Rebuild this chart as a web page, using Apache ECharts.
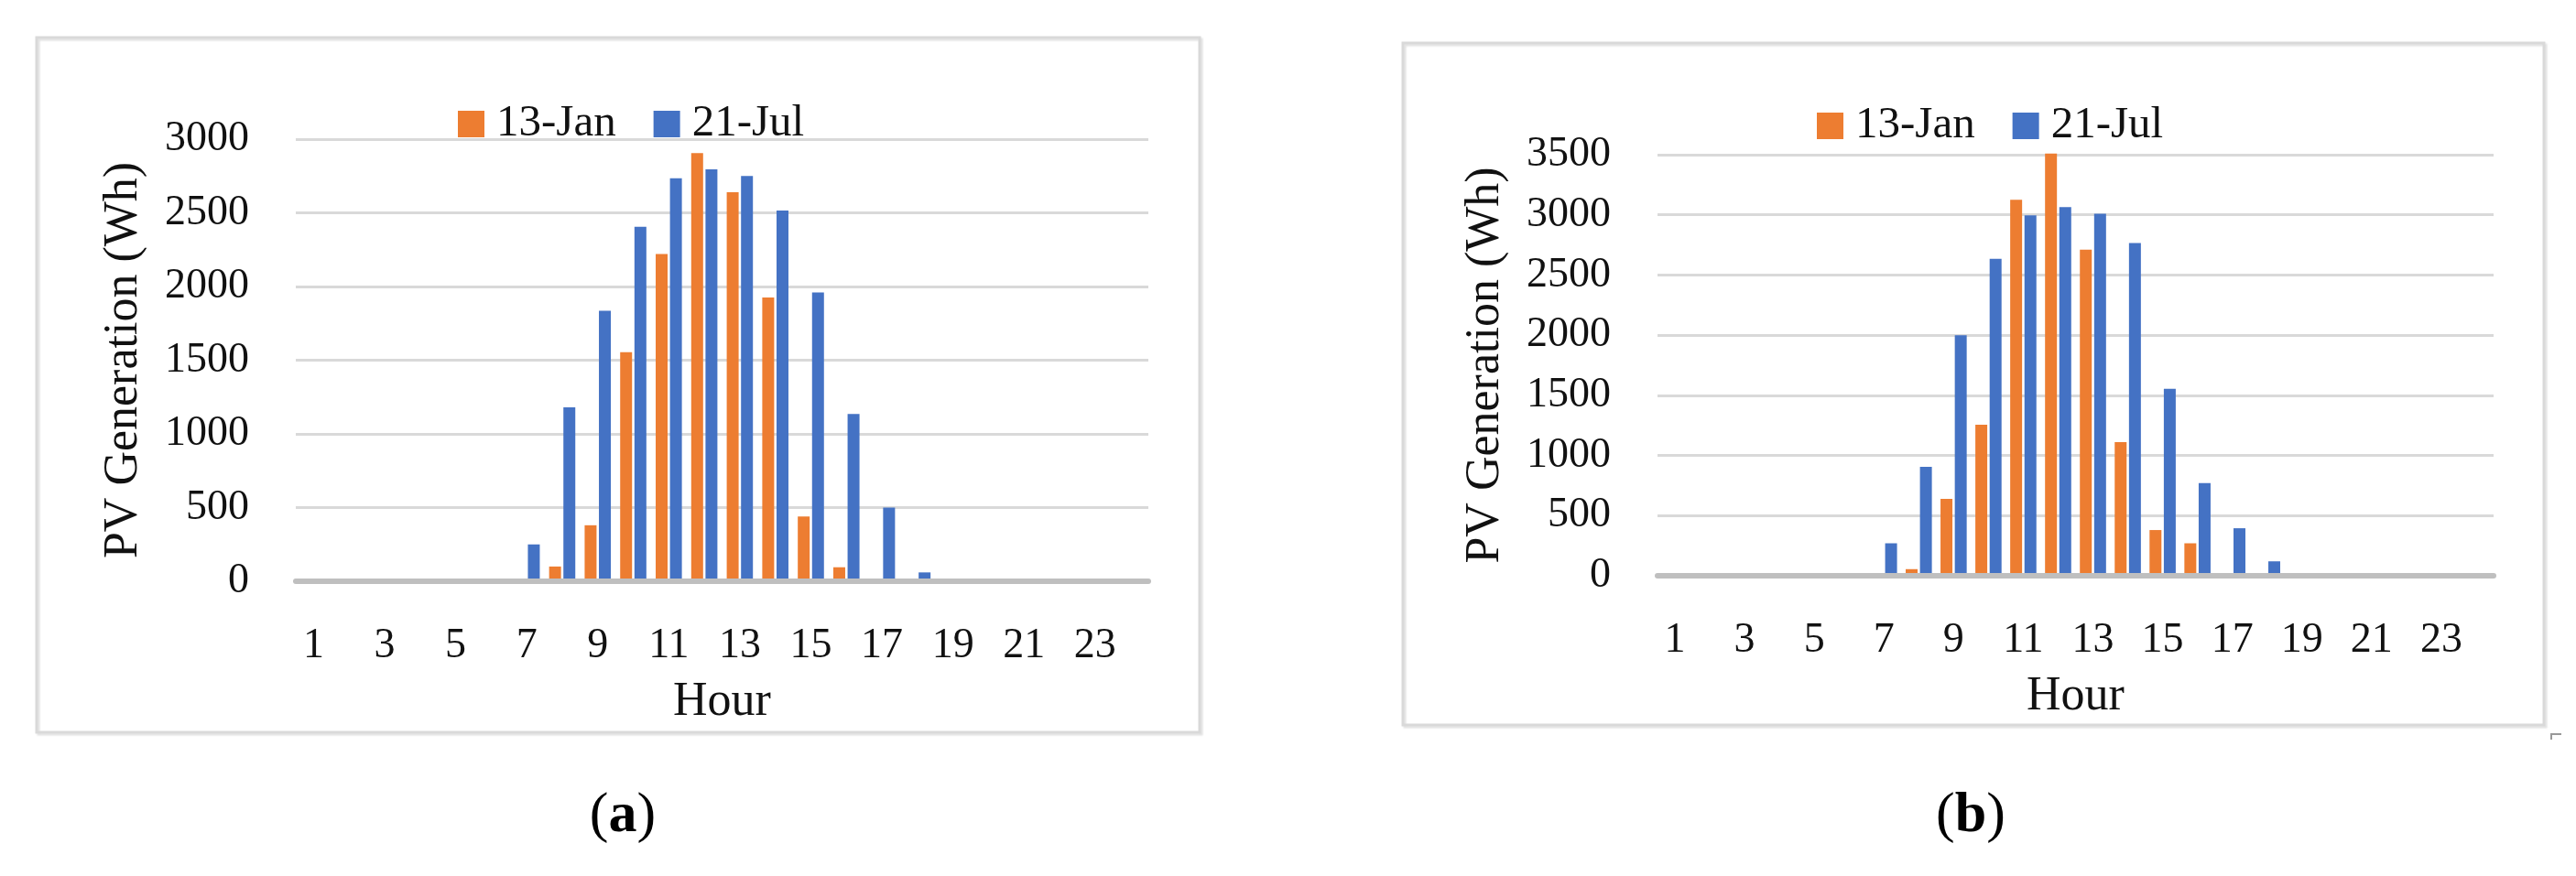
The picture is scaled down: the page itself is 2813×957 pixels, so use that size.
<!DOCTYPE html>
<html>
<head>
<meta charset="utf-8">
<title>PV Generation</title>
<script src="https://cdn.jsdelivr.net/npm/echarts@6/dist/echarts.min.js"></script>
<style>
    html, body { margin: 0; padding: 0; background: #fff; }
    #main { width: 2813px; height: 957px; }
</style>
</head>
<body>
<div id="main"></div>
<script>
// 横轴：小时
const hours = ['1', '2', '3', '4', '5', '6', '7', '8', '9', '10', '11', '12',
    '13', '14', '15', '16', '17', '18', '19', '20', '21', '22', '23', '24'];
// 图例名称
const seriesNames = ['13-Jan', '21-Jul'];
// (a) 发电量 Wh
const janA = [0, 0, 0, 0, 0, 0, 0, 100, 380, 1555, 2220, 2905, 2640, 1925, 440, 95, 0, 0, 0, 0, 0, 0, 0, 0];
const julA = [0, 0, 0, 0, 0, 0, 250, 1180, 1835, 2405, 2735, 2795, 2750, 2515, 1960, 1135, 500, 60, 0, 0, 0, 0, 0, 0];
// (b) 发电量 Wh
const janB = [0, 0, 0, 0, 0, 0, 0, 55, 640, 1255, 3125, 3510, 2710, 1110, 380, 270, 0, 0, 0, 0, 0, 0, 0, 0];
const julB = [0, 0, 0, 0, 0, 0, 270, 905, 2000, 2635, 2995, 3065, 3010, 2765, 1555, 770, 395, 120, 0, 0, 0, 0, 0, 0];
// y轴范围
const yMaxA = 3000;
const yMaxB = 3500;
const yStep = 500;

const FONT = "'Liberation Serif', 'Times New Roman', serif";
const ORANGE = '#ED7D31';
const BLUE = '#4472C4';

const page = {
    chart: null,

    init() {
        this.chart = echarts.init(document.getElementById('main'));
        this.chart.setOption(this.buildOption());
    },

    /**
     * 单个面板的坐标轴
     */
    xAxis(idx) {
        return {
            type: 'category',
            gridIndex: idx,
            data: hours,
            z: 3,
            axisTick: { show: false },
            axisLine: { lineStyle: { color: '#bfbfbf', width: 6 } },
            axisLabel: { interval: 1, margin: 48, fontSize: 46, fontFamily: FONT, color: '#111' },
            name: 'Hour',
            nameLocation: 'middle',
            nameGap: 106,
            nameTextStyle: { fontSize: 52, fontFamily: FONT, color: '#111' }
        };
    },

    yAxis(idx, max) {
        return {
            type: 'value',
            gridIndex: idx,
            min: 0,
            max: max,
            interval: yStep,
            axisLine: { show: false },
            axisTick: { show: false },
            splitLine: { lineStyle: { color: '#d9d9d9', width: 3 } },
            // 不要千分位
            axisLabel: {
                margin: 51, fontSize: 46, fontFamily: FONT, color: '#111',
                formatter: v => String(v)
            },
            name: 'PV Generation (Wh)',
            nameLocation: 'middle',
            nameRotate: 90,
            nameGap: 162,
            nameTextStyle: { fontSize: 52, fontFamily: FONT, color: '#111' }
        };
    },

    bar(name, idx, data, color) {
        return {
            name: name,
            type: 'bar',
            xAxisIndex: idx,
            yAxisIndex: idx,
            data: data,
            barWidth: 13,
            barGap: '20%',
            clip: false,
            itemStyle: { color: color }
        };
    },

    legend(left, top) {
        return {
            left: left,
            top: top,
            icon: 'rect',
            itemWidth: 29,
            itemHeight: 29,
            itemGap: 41,
            data: seriesNames,
            textStyle: { fontSize: 49, fontFamily: FONT, color: '#111', padding: [0, 0, 0, 8] }
        };
    },

    // 外框和 (a)(b) 标注
    graphics() {
        const box = (x, y, w, h) => ({
            type: 'rect',
            shape: { x: x, y: y, width: w, height: h },
            style: {
                fill: 'none', stroke: '#d9d9d9', lineWidth: 3,
                shadowColor: 'rgba(0,0,0,0.12)', shadowOffsetX: 2, shadowOffsetY: 2, shadowBlur: 2
            },
            silent: true
        });
        const caption = (x, letter) => ({
            type: 'text',
            style: {
                x: x, y: 892,
                text: '(' + '{b|' + letter + '}' + ')',
                align: 'center',
                verticalAlign: 'middle',
                fontSize: 62,
                fontFamily: FONT,
                fill: '#000',
                rich: { b: { fontSize: 62, fontFamily: FONT, fontWeight: 'bold', fill: '#000' } }
            },
            silent: true
        });
        return [
            box(40, 41, 1270, 759),
            box(1532, 47, 1246, 745),
            caption(680, 'a'),
            caption(2152, 'b'),
            {
                type: 'polyline',
                shape: { points: [[2786, 808], [2786, 802], [2797, 802]] },
                style: { stroke: '#999', lineWidth: 2, fill: 'none' },
                silent: true
            }
        ];
    },

    buildOption() {
        return {
            animation: false,
            backgroundColor: '#fff',
            grid: [
                { left: 323, top: 152, width: 931, height: 483 },
                { left: 1810, top: 169, width: 913, height: 460 }
            ],
            legend: [this.legend(495, 106), this.legend(1979, 108)],
            xAxis: [this.xAxis(0), this.xAxis(1)],
            yAxis: [this.yAxis(0, yMaxA), this.yAxis(1, yMaxB)],
            series: [
                this.bar(seriesNames[0], 0, janA, ORANGE),
                this.bar(seriesNames[1], 0, julA, BLUE),
                this.bar(seriesNames[0], 1, janB, ORANGE),
                this.bar(seriesNames[1], 1, julB, BLUE)
            ],
            graphic: this.graphics()
        };
    }
};

page.init();
</script>
</body>
</html>
